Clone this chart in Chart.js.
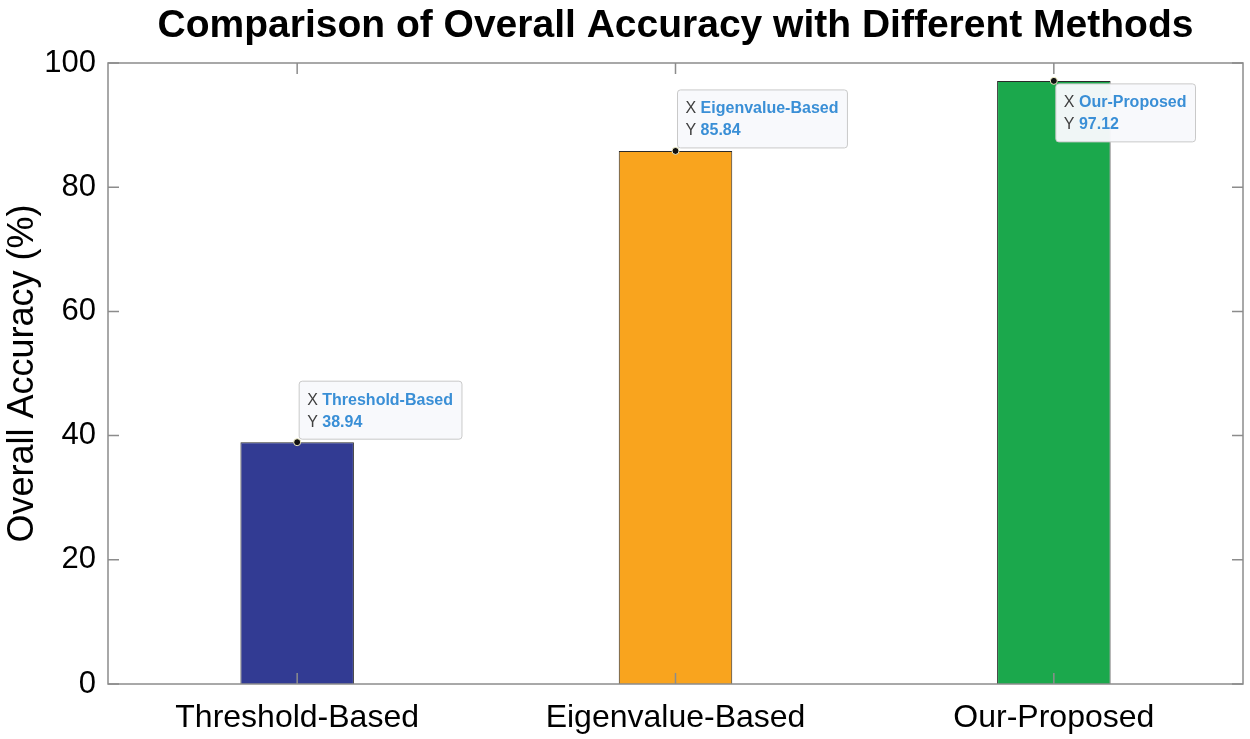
<!DOCTYPE html>
<html lang="en">
<head>
    <meta charset="UTF-8" />
    <title>Comparison of Overall Accuracy</title>
    <script src="https://cdn.jsdelivr.net/npm/chart.js@4"></script>
    <style>
        html, body { margin: 0; padding: 0; background: #fff; }
        #wrap { width: 1250px; height: 739px; }
    </style>
</head>
<body>
    <div id="wrap"><canvas id="accChart" width="1250" height="739"></canvas></div>
    <script>
        // podaci s grafa
        const categories = ['Threshold-Based', 'Eigenvalue-Based', 'Our-Proposed'];
        const accuracy = [38.94, 85.84, 97.12];
        const barColors = ['#323B93', '#F9A41E', '#1BA84C'];
        const yTicks = [0, 20, 40, 60, 80, 100];

        const FONT = "'Liberation Sans', Arial, Helvetica, sans-serif";
        const AXIS_COLOR = '#8c8c8c';

        // okvir osi i unutarnje crtice (MATLAB stil)
        const boxPlugin = {
            id: 'boxAxes',
            afterDatasetsDraw(chart) {
                const { ctx, chartArea: a, scales } = chart;
                const len = 11;
                ctx.save();
                ctx.strokeStyle = AXIS_COLOR;
                ctx.lineWidth = 1.5;
                ctx.beginPath();
                yTicks.forEach(v => {
                    const y = scales.y.getPixelForValue(v);
                    ctx.moveTo(a.left, y); ctx.lineTo(a.left + len, y);
                    ctx.moveTo(a.right, y); ctx.lineTo(a.right - len, y);
                });
                categories.forEach((c, i) => {
                    const x = scales.x.getPixelForValue(i);
                    ctx.moveTo(x, a.bottom); ctx.lineTo(x, a.bottom - len);
                    ctx.moveTo(x, a.top); ctx.lineTo(x, a.top + len);
                });
                ctx.stroke();
                ctx.strokeRect(a.left, a.top, a.right - a.left, a.bottom - a.top);
                ctx.restore();
            }
        };

        // oznake podataka (data tips)
        const tipPlugin = {
            id: 'dataTips',
            afterDraw(chart) {
                const { ctx, chartArea: a } = chart;
                const meta = chart.getDatasetMeta(0);
                ctx.save();
                meta.data.forEach((bar, i) => {
                    const px = bar.x, py = bar.y;
                    const bold = `bold 16px ${FONT}`;
                    const reg = `16px ${FONT}`;
                    ctx.font = reg;
                    const lw = ctx.measureText('X ').width;
                    ctx.font = bold;
                    const w1 = ctx.measureText(categories[i]).width;
                    const w2 = ctx.measureText(accuracy[i].toFixed(2)).width;
                    const w = 8 + lw + Math.max(w1, w2) + 9;
                    const h = 58;
                    let left = px + 2;
                    let top = py - 3 - h;
                    if (top < a.top) top = py + 3;

                    ctx.beginPath();
                    ctx.roundRect(left, top, w, h, 3);
                    ctx.fillStyle = 'rgba(248,249,252,0.97)';
                    ctx.fill();
                    ctx.strokeStyle = '#c9c9c9';
                    ctx.lineWidth = 1;
                    ctx.stroke();

                    ctx.textBaseline = 'middle';
                    ctx.textAlign = 'left';
                    ctx.font = reg;
                    ctx.fillStyle = '#404040';
                    ctx.fillText('X', left + 8, top + 19);
                    ctx.fillText('Y', left + 8, top + 41);
                    ctx.font = bold;
                    ctx.fillStyle = '#3A8FD6';
                    ctx.fillText(categories[i], left + 8 + lw, top + 19);
                    ctx.fillText(accuracy[i].toFixed(2), left + 8 + lw, top + 41);

                    ctx.beginPath();
                    ctx.arc(px, py, 3.5, 0, Math.PI * 2);
                    ctx.fillStyle = '#111';
                    ctx.fill();
                    ctx.strokeStyle = '#f3f0c8';
                    ctx.lineWidth = 1;
                    ctx.stroke();
                });
                ctx.restore();
            }
        };

        new Chart(document.getElementById('accChart').getContext('2d'), {
            type: 'bar',
            data: {
                labels: categories,
                datasets: [{
                    data: accuracy,
                    backgroundColor: barColors,
                    borderColor: '#2a2a2a',
                    borderWidth: 1,
                    barPercentage: 0.3,
                    categoryPercentage: 1.0
                }]
            },
            options: {
                responsive: false,
                devicePixelRatio: 1,
                animation: false,
                layout: { padding: { left: 0, right: 7, top: 0, bottom: 0 } },
                plugins: {
                    legend: { display: false },
                    tooltip: { enabled: false },
                    title: {
                        display: true,
                        fullSize: false,
                        text: 'Comparison of Overall Accuracy with Different Methods',
                        color: '#000',
                        font: { family: FONT, size: 39, weight: 'bold' },
                        padding: { top: 3, bottom: 13.2 }
                    }
                },
                scales: {
                    x: {
                        type: 'category',
                        offset: true,
                        grid: { display: false, drawTicks: false },
                        border: { display: false },
                        ticks: { color: '#000', font: { family: FONT, size: 32 }, padding: 15 },
                        afterFit: s => { s.height = 55; }
                    },
                    y: {
                        min: 0,
                        max: 100,
                        grid: { display: false, drawTicks: false },
                        border: { display: false },
                        ticks: { stepSize: 20, color: '#000', font: { family: FONT, size: 31 }, padding: 12 },
                        title: {
                            display: true,
                            text: 'Overall Accuracy (%)',
                            color: '#000',
                            font: { family: FONT, size: 36 },
                            padding: { top: 1, bottom: 0 }
                        },
                        afterFit: s => { s.width = 108; }
                    }
                }
            },
            plugins: [boxPlugin, tipPlugin]
        });
    </script>
</body>
</html>
